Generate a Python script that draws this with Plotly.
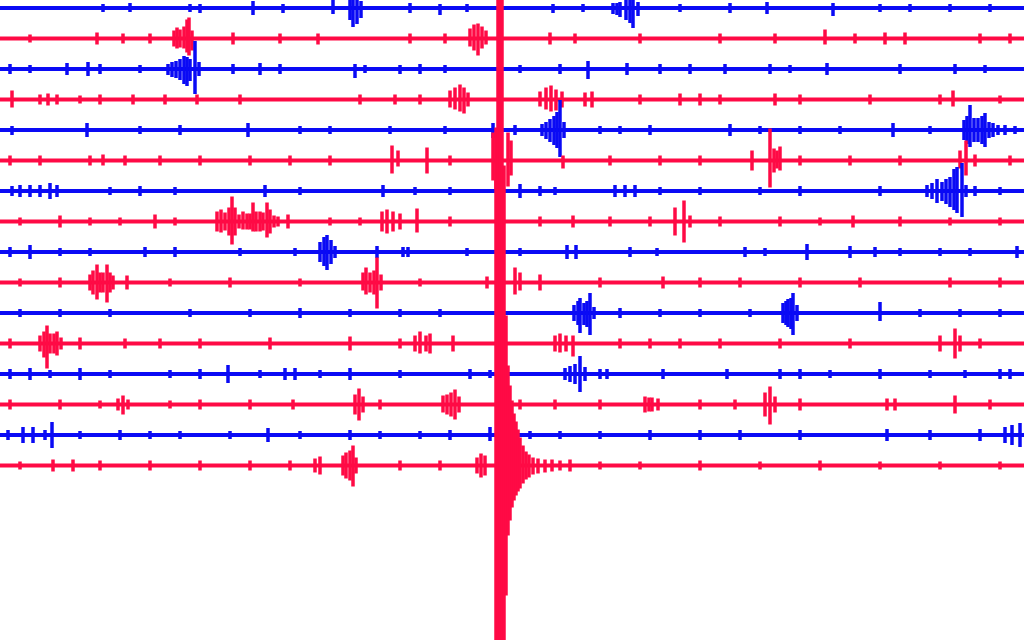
"""Helicorder-style seismogram: 16 stacked traces, alternating blue / red."""

import plotly.graph_objects as go

BLUE = "#0a0af5"
RED = "#ff0a45"

# time axis (display units) and spacing between trace baselines
T_START, T_END = 0, 1024
ROW_STEP = 30.5

# each trace: list of (time, amplitude up, amplitude down) spikes
row_00 = [(103, 4, 4), (130, 5, 4), (190, 4, 4), (200, 4, 5), (253, 7, 7), (283, 4, 5), (333, 8, 6),
          (350, 8, 12), (353, 8, 19), (357, 8, 16), (361, 7, 10), (410, 5, 5), (440, 4, 7),
          (467, 4, 4), (553, 4, 5), (583, 4, 4), (613, 5, 6), (617, 5, 7), (620, 6, 9), (626, 8, 12),
          (630, 8, 15), (633, 8, 20), (638, 6, 8), (680, 4, 4), (730, 5, 5), (767, 6, 6),
          (833, 5, 8), (880, 4, 4), (910, 4, 4), (950, 4, 4), (990, 4, 4)]
row_01 = [(30, 4, 4), (97, 6, 6), (123, 5, 5), (150, 5, 5), (174, 8, 8), (177, 11, 10), (180, 9, 9),
          (184, 12, 10), (187, 19, 14), (189, 21, 17), (192, 8, 12), (233, 6, 6), (280, 5, 5),
          (318, 5, 6), (410, 5, 5), (445, 5, 5), (470, 10, 8), (474, 14, 12), (478, 15, 17),
          (482, 12, 10), (486, 8, 6), (550, 6, 6), (575, 5, 5), (640, 5, 5), (720, 5, 5),
          (775, 5, 5), (825, 9, 6), (855, 5, 5), (885, 6, 6), (905, 6, 6), (980, 5, 5), (1010, 5, 5)]
row_02 = [(10, 5, 5), (30, 4, 4), (67, 6, 6), (88, 7, 7), (100, 5, 5), (140, 4, 4), (168, 5, 6),
          (172, 7, 8), (176, 8, 9), (180, 10, 11), (184, 13, 15), (187, 12, 17), (190, 10, 12),
          (195, 28, 25), (199, 7, 7), (233, 5, 5), (260, 6, 6), (280, 5, 5), (355, 5, 9),
          (365, 4, 4), (400, 4, 5), (420, 5, 5), (445, 4, 4), (520, 4, 4), (560, 5, 5),
          (588, 8, 10), (627, 6, 6), (660, 5, 5), (690, 5, 5), (725, 5, 5), (770, 5, 5),
          (790, 4, 4), (827, 6, 6), (900, 5, 5), (955, 5, 5), (985, 4, 4)]
row_03 = [(12, 9, 8), (40, 5, 5), (48, 6, 6), (57, 5, 5), (80, 4, 4), (100, 5, 5), (133, 5, 5),
          (165, 5, 5), (197, 5, 5), (240, 5, 5), (360, 5, 5), (395, 5, 5), (420, 5, 5),
          (450, 9, 8), (455, 12, 10), (460, 15, 12), (464, 12, 14), (468, 7, 7), (540, 8, 7),
          (546, 12, 10), (551, 14, 12), (556, 10, 11), (562, 8, 8), (585, 7, 7), (592, 8, 8),
          (640, 5, 5), (680, 6, 6), (700, 6, 6), (720, 5, 5), (775, 6, 6), (800, 5, 5),
          (870, 5, 5), (940, 5, 5), (953, 9, 7), (1000, 4, 4)]
row_04 = [(12, 4, 5), (87, 7, 7), (140, 4, 4), (180, 5, 5), (248, 7, 7), (300, 4, 4), (330, 4, 4),
          (390, 4, 4), (445, 4, 4), (493, 7, 8), (515, 5, 5), (542, 6, 6), (546, 8, 9),
          (550, 11, 12), (554, 14, 15), (557, 18, 18), (560, 30, 27), (564, 8, 8), (600, 4, 4),
          (620, 4, 4), (650, 5, 5), (730, 6, 6), (760, 4, 4), (800, 4, 4), (840, 4, 4),
          (893, 7, 7), (930, 4, 4), (964, 10, 10), (967, 14, 14), (970, 25, 17), (974, 12, 12),
          (978, 12, 12), (982, 14, 14), (985, 17, 17), (989, 8, 8), (993, 7, 7), (998, 5, 5),
          (1005, 5, 5), (1015, 4, 4)]
row_05 = [(10, 5, 5), (40, 5, 5), (90, 5, 5), (103, 6, 5), (125, 5, 5), (160, 5, 5), (200, 5, 5),
          (250, 5, 5), (290, 5, 5), (330, 5, 5), (392, 15, 13), (398, 10, 6), (427, 13, 13),
          (450, 5, 5), (493, 28, 20), (496, 33, 30), (508, 28, 26), (511, 20, 15), (563, 5, 8),
          (610, 5, 5), (660, 5, 5), (700, 5, 5), (752, 10, 10), (770, 32, 27), (774, 12, 12),
          (777, 10, 8), (780, 14, 10), (800, 5, 5), (850, 5, 5), (900, 5, 5), (960, 10, 8),
          (966, 20, 15), (975, 6, 6), (1010, 5, 5)]
row_06 = [(12, 5, 5), (20, 6, 6), (30, 6, 6), (40, 6, 6), (50, 8, 8), (57, 6, 6), (110, 4, 4),
          (140, 5, 5), (175, 4, 4), (265, 6, 6), (300, 4, 4), (383, 6, 6), (415, 4, 4),
          (450, 4, 4), (520, 7, 7), (540, 5, 5), (555, 4, 4), (615, 6, 6), (625, 6, 6),
          (635, 6, 6), (660, 4, 4), (700, 4, 4), (760, 4, 4), (800, 5, 5), (880, 5, 5),
          (927, 6, 6), (932, 8, 8), (937, 12, 12), (942, 9, 10), (946, 12, 13), (950, 14, 16),
          (954, 22, 19), (957, 24, 22), (962, 28, 26), (966, 6, 6), (975, 5, 5), (1000, 4, 4)]
row_07 = [(20, 4, 4), (60, 6, 6), (90, 4, 4), (120, 4, 4), (155, 7, 7), (175, 4, 4),
          (217, 10, 10), (221, 12, 11), (225, 9, 9), (229, 14, 14), (232, 25, 23), (235, 14, 14),
          (239, 7, 7), (243, 10, 8), (247, 8, 8), (250, 8, 8), (253, 19, 10), (256, 10, 10),
          (260, 10, 10), (263, 9, 9), (267, 19, 16), (270, 12, 12), (274, 6, 6), (278, 5, 5),
          (288, 7, 7), (330, 4, 4), (360, 4, 4), (382, 10, 10), (387, 12, 12), (393, 10, 10),
          (400, 8, 8), (417, 13, 11), (450, 5, 5), (540, 5, 5), (573, 6, 6), (610, 5, 5),
          (650, 5, 5), (675, 14, 14), (684, 21, 21), (690, 6, 6), (720, 5, 5), (780, 5, 5),
          (820, 4, 4), (853, 6, 6), (900, 5, 5), (950, 4, 4), (1000, 4, 4)]
row_08 = [(10, 5, 5), (30, 7, 7), (60, 4, 4), (90, 4, 4), (145, 5, 5), (175, 5, 5), (240, 4, 4),
          (295, 4, 4), (320, 10, 10), (324, 15, 14), (327, 17, 18), (331, 12, 12), (335, 6, 6),
          (377, 6, 6), (403, 5, 5), (408, 5, 5), (467, 4, 4), (520, 4, 4), (567, 7, 7),
          (576, 7, 7), (630, 5, 5), (657, 4, 4), (745, 5, 5), (765, 4, 4), (807, 8, 8),
          (850, 6, 6), (875, 5, 5), (900, 4, 4), (940, 4, 4), (970, 4, 4), (1017, 6, 6)]
row_09 = [(20, 4, 4), (60, 5, 5), (90, 8, 8), (93, 12, 12), (97, 18, 17), (100, 10, 10),
          (103, 10, 10), (107, 18, 20), (110, 10, 10), (113, 7, 7), (127, 7, 7), (170, 4, 4),
          (230, 5, 5), (300, 4, 4), (363, 10, 8), (366, 15, 12), (370, 10, 10), (374, 12, 12),
          (377, 25, 26), (381, 8, 8), (420, 4, 4), (487, 6, 6), (515, 15, 12), (520, 10, 8),
          (540, 8, 8), (600, 5, 5), (663, 6, 6), (700, 5, 5), (740, 5, 5), (800, 5, 5),
          (860, 5, 5), (950, 5, 5), (1000, 5, 5)]
row_10 = [(20, 4, 4), (60, 4, 4), (110, 4, 4), (190, 4, 4), (250, 4, 4), (300, 5, 5), (350, 4, 4),
          (400, 4, 4), (440, 4, 4), (574, 8, 8), (578, 12, 12), (580, 15, 20), (584, 10, 12),
          (587, 12, 14), (590, 20, 22), (594, 6, 6), (620, 5, 5), (660, 4, 4), (700, 4, 4),
          (750, 4, 4), (783, 10, 10), (786, 12, 12), (788, 14, 14), (791, 15, 16), (793, 20, 22),
          (797, 8, 8), (880, 11, 8), (920, 4, 4), (960, 4, 4), (1000, 4, 4)]
row_11 = [(10, 5, 5), (40, 8, 8), (44, 12, 14), (47, 18, 25), (50, 10, 10), (54, 10, 10),
          (57, 12, 12), (61, 6, 6), (80, 6, 6), (125, 5, 5), (160, 5, 5), (200, 5, 5), (270, 6, 6),
          (350, 7, 7), (400, 5, 5), (415, 8, 8), (420, 12, 10), (426, 8, 8), (430, 10, 10),
          (453, 8, 8), (555, 8, 8), (560, 10, 9), (566, 8, 8), (573, 8, 13), (620, 5, 5),
          (650, 5, 5), (680, 5, 5), (720, 5, 5), (780, 5, 5), (850, 5, 5), (940, 8, 8),
          (955, 15, 15), (960, 8, 8), (980, 5, 5)]
row_12 = [(10, 5, 5), (30, 6, 6), (50, 4, 4), (80, 6, 6), (110, 4, 4), (170, 4, 4), (200, 5, 5),
          (228, 9, 9), (260, 4, 4), (285, 6, 6), (295, 6, 6), (320, 4, 4), (350, 6, 6),
          (400, 4, 4), (470, 5, 5), (490, 4, 4), (565, 6, 6), (570, 8, 8), (575, 10, 10),
          (580, 18, 18), (585, 7, 7), (600, 5, 5), (607, 5, 5), (663, 5, 5), (727, 5, 5),
          (780, 5, 5), (800, 5, 5), (830, 4, 4), (880, 5, 5), (930, 4, 4), (965, 4, 4),
          (1000, 5, 5), (1010, 5, 5)]
row_13 = [(10, 5, 5), (60, 5, 5), (100, 4, 4), (118, 6, 6), (123, 9, 10), (128, 5, 5), (170, 4, 4),
          (200, 5, 5), (250, 5, 5), (293, 5, 5), (355, 10, 10), (359, 16, 16), (363, 8, 8),
          (380, 5, 5), (443, 9, 8), (447, 10, 10), (451, 12, 12), (455, 15, 15), (459, 8, 8),
          (520, 5, 5), (555, 5, 5), (600, 5, 5), (645, 8, 8), (649, 7, 7), (652, 7, 7),
          (658, 6, 6), (700, 5, 5), (735, 5, 5), (765, 12, 12), (770, 18, 20), (775, 8, 8),
          (800, 6, 6), (887, 6, 6), (895, 6, 6), (955, 9, 9), (990, 5, 5)]
row_14 = [(8, 5, 5), (23, 8, 8), (33, 8, 8), (45, 5, 5), (52, 13, 13), (80, 4, 4), (120, 5, 5),
          (150, 4, 4), (180, 4, 4), (230, 4, 4), (268, 7, 7), (300, 4, 4), (350, 5, 5),
          (380, 4, 4), (420, 4, 4), (450, 5, 5), (490, 8, 6), (530, 4, 4), (560, 4, 4),
          (600, 4, 4), (650, 5, 5), (700, 5, 5), (740, 5, 5), (800, 5, 5), (887, 6, 6),
          (930, 5, 5), (980, 6, 6), (1005, 8, 8), (1012, 10, 10), (1020, 12, 12)]
row_15 = [(20, 4, 4), (53, 6, 6), (73, 6, 6), (100, 5, 5), (150, 5, 5), (200, 5, 5), (250, 5, 5),
          (290, 5, 5), (315, 7, 7), (320, 9, 9), (343, 10, 10), (346, 13, 13), (350, 15, 15),
          (353, 20, 21), (356, 8, 8), (400, 5, 5), (440, 5, 5), (477, 8, 8), (481, 12, 12),
          (485, 10, 10), (496, 330, 700), (498, 700, 700), (500, 700, 700), (502, 700, 700),
          (504, 300, 700), (506, 150, 130), (508, 100, 70), (510, 80, 55), (512, 65, 42),
          (514, 52, 35), (516, 44, 30), (518, 36, 26), (520, 28, 23), (523, 20, 18),
          (526, 14, 14), (529, 11, 12), (533, 8, 9), (538, 7, 8), (545, 6, 7), (552, 6, 6),
          (560, 5, 5), (570, 6, 6), (600, 4, 4), (640, 4, 4), (700, 5, 5), (760, 4, 4),
          (820, 5, 5), (880, 4, 4), (940, 4, 4), (1000, 4, 4)]

ROWS = [row_00, row_01, row_02, row_03, row_04, row_05, row_06, row_07,
        row_08, row_09, row_10, row_11, row_12, row_13, row_14, row_15]

fig = go.Figure()
for i, spikes in enumerate(ROWS):
    base = -i * ROW_STEP
    color = BLUE if i % 2 == 0 else RED
    fig.add_trace(
        go.Scatter(
            x=[T_START, T_END],
            y=[base, base],
            mode="lines",
            line={"color": color, "width": 4},
            hoverinfo="skip",
        )
    )
    xs, ys = [], []
    for t, up, down in spikes:
        xs += [t, t, None]
        ys += [base + up, base - down, None]
    fig.add_trace(
        go.Scatter(
            x=xs,
            y=ys,
            mode="lines",
            line={"color": color, "width": 3.5},
            hoverinfo="skip",
        )
    )

fig.update_layout(
    width=1024,
    height=640,
    margin={"l": 0, "r": 0, "t": 0, "b": 0},
    paper_bgcolor="white",
    plot_bgcolor="white",
    showlegend=False,
)
fig.update_xaxes(range=[T_START, T_END], visible=False)
fig.update_yaxes(range=[-632, 8], visible=False)
# the page body keeps a default 8px margin; drop it so the drum fills the window
fig.write_html(
    "out.html",
    config={"displayModeBar": False},
    post_script="document.body.style.margin = '0';",
)
